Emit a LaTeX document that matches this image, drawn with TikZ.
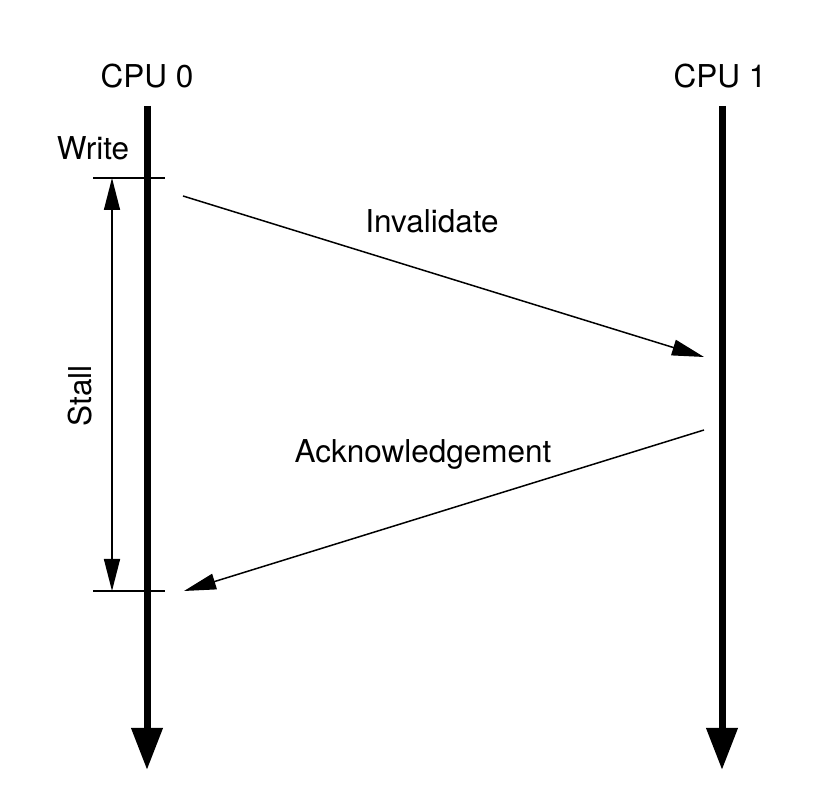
\documentclass[tikz,border=0pt]{standalone}
\usepackage{fontspec}
\setmainfont{TeX Gyre Heros}
\usetikzlibrary{arrows.meta}

\begin{document}
\begin{tikzpicture}[x=1pt,y=1pt,font=\fontsize{31.5}{33}\selectfont,>=Triangle]
\tikzset{
  timeline/.style={line width=7pt,-{Triangle[length=42pt,width=30pt]}},
  message/.style={line width=1.5pt,-{Triangle[length=32pt,width=16pt]}},
  tick/.style={line width=1.3pt},
  caption/.style={anchor=base,inner sep=0pt}
}
\useasboundingbox (0,0) rectangle (836,790);

% processors
\node[caption] (cpu0) at (147,702) {CPU 0};
\node[caption] (cpu1) at (720,702) {CPU 1};
\coordinate (c0top) at (147,684);
\coordinate (c0bot) at (147,20);
\coordinate (c1top) at (722,684);
\coordinate (c1bot) at (722,20);
\draw[timeline] (c0top)--(c0bot);
\draw[timeline] (c1top)--(c1bot);

% write and stall
\node[caption] (write) at (93,630) {Write};
\coordinate (w1) at (93,612);
\coordinate (w2) at (165,612);
\coordinate (a1) at (93,199);
\coordinate (a2) at (165,199);
\draw[tick] (w1)--(w2);
\draw[tick] (a1)--(a2);
\coordinate (s1) at (112,612);
\coordinate (s2) at (112,199);
\draw[message,{Triangle[length=32pt,width=16pt]}-{Triangle[length=32pt,width=16pt]}] (s1)--(s2);
\node[rotate=90,inner sep=0pt] (stall) at (80,394) {Stall};

% messages
\coordinate (inv0) at (183,594);
\coordinate (inv1) at (704,433);
\draw[message] (inv0)--(inv1);
\node[caption] (invalidate) at (432,557) {Invalidate};
\coordinate (ack0) at (704,360);
\coordinate (ack1) at (184,199);
\draw[message] (ack0)--(ack1);
\node[caption] (ack) at (423,327) {Acknowledgement};
\end{tikzpicture}
\end{document}
